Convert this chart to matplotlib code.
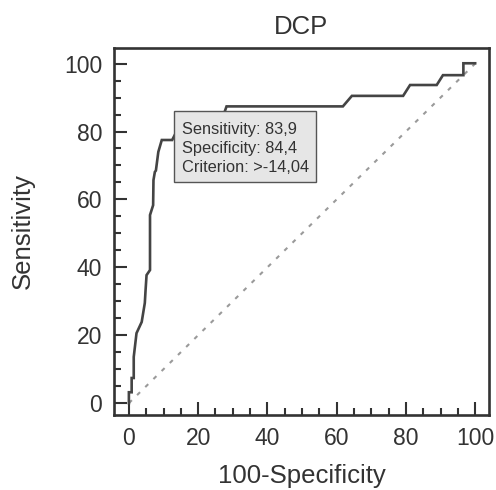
import matplotlib
matplotlib.use("Agg")
import matplotlib.pyplot as plt
from matplotlib.patches import Rectangle
from matplotlib.ticker import MultipleLocator

plt.rcParams['font.family'] = ['Liberation Sans', 'DejaVu Sans']

# ROC curve (100-Specificity, Sensitivity)
fpr = [0, 0, 0.8, 0.8, 1.4, 1.4, 2.2, 3.7, 4.6, 4.8, 5.1, 6.1, 6.1, 7.0, 7.1,
       7.5, 7.8, 8.5, 9.5, 12.5, 14.0, 15.6, 27.0, 28.2, 61.8, 64.4, 79.2,
       81.2, 88.9, 90.7, 96.6, 96.6, 100]
tpr = [0, 3.2, 3.2, 7.4, 7.4, 13.6, 20.6, 23.9, 29.5, 33.0, 37.7, 39.2, 55.4,
       58.3, 65.7, 68.1, 68.5, 74.0, 77.5, 77.5, 80.5, 83.9, 83.9, 87.4, 87.4,
       90.5, 90.5, 93.7, 93.7, 96.6, 96.6, 100.1, 100.1]

sens_txt = "Sensitivity: 83,9"
spec_txt = "Specificity: 84,4"
crit_txt = "Criterion: >-14,04"

fig = plt.figure(figsize=(4.96, 4.90), dpi=100)
ax = fig.add_axes([114 / 496, 1 - 415 / 490, 375 / 496, 367 / 490])

ax.plot([0, 100], [0, 100], color='#9a9a9a', lw=1.5, ls=(0, (2, 3.5)), zorder=1)
ax.plot(fpr, tpr, color='#444444', lw=1.9, zorder=2, solid_joinstyle='miter')

ax.set_xlim(-4.3, 104.0)
ax.set_ylim(-3.5, 104.6)

ax.xaxis.set_major_locator(MultipleLocator(20))
ax.xaxis.set_minor_locator(MultipleLocator(5))
ax.yaxis.set_major_locator(MultipleLocator(20))
ax.yaxis.set_minor_locator(MultipleLocator(5))
ax.tick_params(which='both', direction='in', color='#333333', width=1.5,
               top=False, right=False)
ax.tick_params(which='major', length=9.5, pad=8.5, labelsize=16.5,
               labelcolor='#333333')
ax.tick_params(which='minor', length=5)
for s in ax.spines.values():
    s.set_linewidth(1.9)
    s.set_color('#333333')

ax.set_title("DCP", fontsize=18.5, color='#333333', pad=10)
ax.set_xlabel("100-Specificity", fontsize=18.5, color='#333333', labelpad=10.5)
ax.set_ylabel("Sensitivity", fontsize=18.5, color='#333333', labelpad=21)

# annotation box
ax.add_patch(Rectangle((13.0, 65.0), 41.0, 21.0, facecolor='#e6e6e6',
                       edgecolor='#555555', lw=1.0, zorder=3))
for yy, t in zip([80.7, 75.0, 69.3], [sens_txt, spec_txt, crit_txt]):
    ax.text(15.3, yy, t, fontsize=11.8, color='#333333', va='center',
            ha='left', zorder=4)

fig.savefig("out.png", dpi=100)
